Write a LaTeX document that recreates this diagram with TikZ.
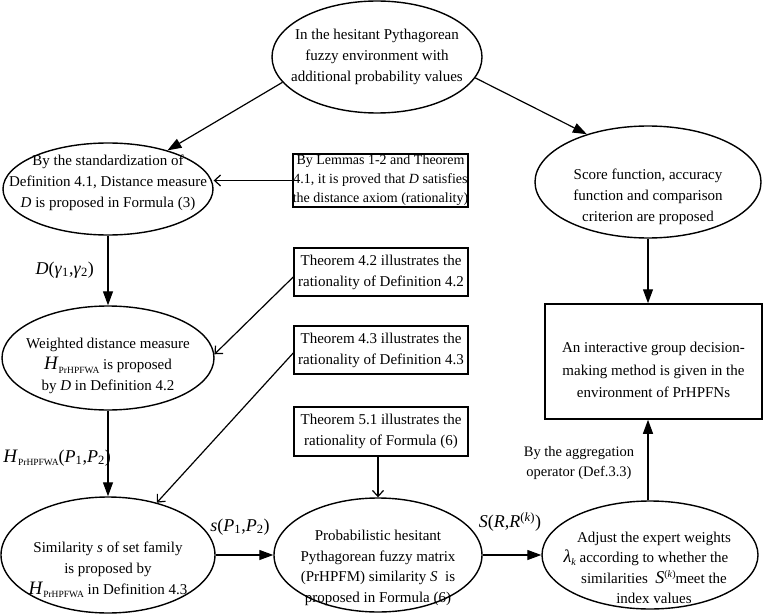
\documentclass[tikz,border=0pt]{standalone}
\usepackage{fontspec}
\setmainfont{Liberation Serif}
\usetikzlibrary{arrows.meta,shapes.geometric,calc}
\newcommand\myH{{\fontsize{19}{19}\selectfont\textit{H}}\raisebox{-3.5pt}{\fontsize{9.5}{10}\selectfont PrHPFWA}}
\begin{document}
\begin{tikzpicture}[x=1pt,y=-1pt,
  ell/.style={draw,ellipse,line width=1.4pt,inner sep=0pt},
  bx/.style={draw,rectangle,line width=1.5pt,inner sep=0pt},
  txt/.style={align=center,inner sep=0pt,font=\fontsize{15}{21}\selectfont},
  main/.style={-{Triangle[length=14pt,width=10pt]},line width=1.2pt},
  thinarr/.style={-{Straight Barb[length=6pt,width=11pt]},line width=1.2pt},
  lbl/.style={inner sep=0pt,font=\fontsize{18}{20}\selectfont}]
\useasboundingbox (0,0) rectangle (763,615);

% ellipses
\node[ell,minimum width=210pt,minimum height=112pt] (top) at (377,57) {};
\node[txt] (toptxt) at (377,57) {In the hesitant Pythagorean\\fuzzy environment with\\additional probability values};

\node[ell,minimum width=210pt,minimum height=92pt] (left1) at (108,189) {};
\node[txt] (left1txt) at (108,183) {By the standardization of\\Definition 4.1, Distance measure\\\textit{D} is proposed in Formula (3)};

\node[ell,minimum width=226pt,minimum height=112pt] (score) at (648,182) {};
\node[txt] (scoretxt) at (648,197) {Score function, accuracy\\function and comparison\\criterion are proposed};

\node[ell,minimum width=212pt,minimum height=104pt] (wt) at (108,358) {};
\node[txt] (wttxt) at (108,366) {Weighted distance measure\\\myH{} is proposed\\by \textit{D} in Definition 4.2};

\node[ell,minimum width=214pt,minimum height=116pt] (sim) at (108,555) {};
\node[txt] (simtxt) at (108,570) {Similarity \textit{s} of set family\\is proposed by\\\myH{} in Definition 4.3};

\node[ell,minimum width=208pt,minimum height=114pt] (pr) at (378,555) {};
\node[txt,font=\fontsize{15}{20.7}\selectfont] (prtxt) at (378,568) {Probabilistic hesitant\\Pythagorean fuzzy matrix\\(PrHPFM) similarity \textit{S}\ \ is\\proposed in Formula (6)};

\node[ell,minimum width=216pt,minimum height=108pt] (adj) at (650,555) {};
\node[txt,font=\fontsize{15}{20.3}\selectfont] (adjtxt) at (654,568) {Adjust the expert weights\\\llap{{\fontsize{18}{18}\selectfont\textit{λ}}\raisebox{-3pt}{\fontsize{10}{10}\selectfont\textit{k}} }according to whether the\\similarities\ \ {\fontsize{18}{18}\selectfont\textit{S}}\raisebox{6pt}{\fontsize{10}{10}\selectfont(\textit{k})}meet the\\index values};

% boxes
\node[bx,line width=1.8pt,minimum width=175pt,minimum height=53pt,align=center,font=\fontsize{14}{19}\selectfont] (lem) at (380.5,180.5) {By Lemmas 1-2 and Theorem\\4.1, it is proved that \textit{D} satisfies\\the distance axiom (rationality)};
\node[bx,minimum width=174pt,minimum height=48pt,align=center,font=\fontsize{15}{21}\selectfont] (t42) at (381,272) {Theorem 4.2 illustrates the\\rationality of Definition 4.2};
\node[bx,minimum width=174pt,minimum height=48pt,align=center,font=\fontsize{15}{21}\selectfont] (t43) at (381,350) {Theorem 4.3 illustrates the\\rationality of Definition 4.3};
\node[bx,minimum width=174pt,minimum height=49pt,align=center,font=\fontsize{15}{21}\selectfont] (t51) at (381,431.5) {Theorem 5.1 illustrates the\\rationality of Formula (6)};
\node[bx,minimum width=217pt,minimum height=115pt] (box) at (653.5,361.5) {};
\node[txt,font=\fontsize{15}{22.5}\selectfont] (boxtxt) at (653.5,370) {An interactive group decision-\\making method is given in the\\environment of PrHPFNs};

% connectors
\draw[main] (top.195) -- (left1.33);
\draw[main] (top.348) -- (score.142);
\draw[thinarr] (lem.west) -- (lem.west -| left1.east);
\draw[main] (left1.south) -- (wt.north);
\draw[thinarr] ($(t42.west)+(0,5)$) -- (wt.2);
\draw[thinarr] ($(t43.west)+(0,3)$) -- (sim.47);
\draw[thinarr] (t51.south -| pr.north) -- (pr.north);
\draw[main] (wt.south) -- (sim.north);
\draw[main] (sim.east) -- (pr.west);
\draw[main] (pr.east) -- (adj.west);
\draw[main] (score.south) -- (score.south |- box.north);
\draw[main] (adj.north -| score.south) -- (box.south -| score.south);

% labels
\node[lbl,anchor=east] (dlab) at (94,270) {\textit{D}(\textit{γ}\textsubscript{1},\textit{γ}\textsubscript{2})};
\node[lbl,anchor=east] (hlab) at (111,458) {\myH(\textit{P}\textsubscript{1},\textit{P}\textsubscript{2})};
\node[lbl] (slab) at (240,527) {\textit{s}(\textit{P}\textsubscript{1},\textit{P}\textsubscript{2})};
\node[lbl] (Slab) at (510,522) {\textit{S}(\textit{R},\textit{R}\textsuperscript{(\textit{k})})};
\node[txt,font=\fontsize{14.5}{19.5}\selectfont] (agg) at (579,463) {By the aggregation\\operator (Def.3.3)};
\end{tikzpicture}
\end{document}
